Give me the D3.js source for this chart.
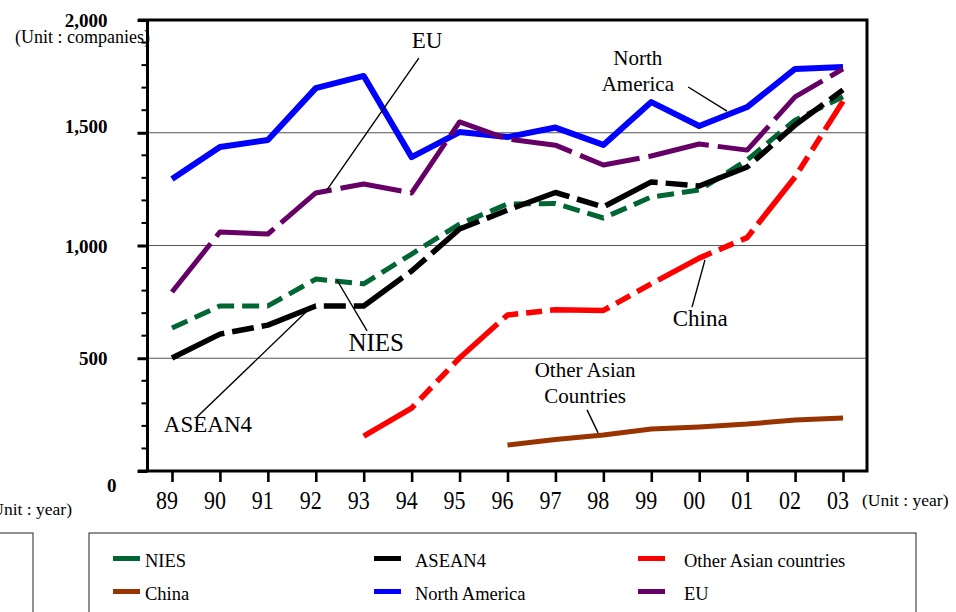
<!DOCTYPE html>
<html>
<head>
<meta charset="utf-8">
<script src="https://cdn.jsdelivr.net/npm/d3@7/dist/d3.min.js"></script>
<style>
  html, body { margin: 0; padding: 0; background: #fff; overflow: hidden; }
  svg { display: block; font-family: "Liberation Serif", "Times New Roman", serif; }
</style>
</head>
<body>
<svg id="chart" width="956" height="612"></svg>
<script>
// Fiscal years (two-digit labels) and number of companies per region
const years = ["89","90","91","92","93","94","95","96","97","98","99","00","01","02","03"];
const northAmerica = [1295, 1437, 1468, 1698, 1752, 1392, 1503, 1481, 1523, 1446, 1636, 1530, 1614, 1783, 1792];
const eu           = [794, 1060, 1051, 1233, 1273, 1233, 1548, 1472, 1445, 1357, 1397, 1450, 1423, 1659, 1783];
const nies         = [634, 732, 732, 851, 830, 962, 1095, 1184, 1186, 1122, 1215, 1246, 1379, 1556, 1660];
const asean4       = [501, 607, 647, 732, 732, 887, 1073, 1157, 1235, 1171, 1282, 1264, 1348, 1534, 1690];
const china        = [null, null, null, null, 155, 279, 501, 692, 715, 712, 830, 944, 1035, 1304, 1640];
const otherAsian   = [null, null, null, null, null, null, null, 115, 140, 160, 186, 195, 208, 226, 235];
const yTicks = [0, 500, 1000, 1500, 2000];
const legendNames = ["NIES", "ASEAN4", "Other Asian countries", "China", "North America", "EU"];

const svg = d3.select("#chart");

const x = d3.scalePoint().domain(years).range([172, 843]);
const xi = d3.scaleLinear().domain([0, years.length - 1]).range([172, 843]); // fractional positions for annotations
const y = d3.scaleLinear().domain([0, 2000]).range([471, 20]);

const plotLeft = 147.5, plotRight = 867, plotTop = 20, plotBottom = 471;

// horizontal gridlines
svg.append("g").selectAll("line")
  .data(yTicks.filter(v => v > 0 && v < 2000))
  .join("line")
  .attr("x1", plotLeft).attr("x2", plotRight)
  .attr("y1", d => y(d)).attr("y2", d => y(d))
  .attr("stroke", "#555").attr("stroke-width", 1.2);

// y axis: major ticks with labels
const yAxis = svg.append("g")
  .attr("transform", `translate(${plotLeft},0)`)
  .call(d3.axisLeft(y).tickValues(yTicks).tickSize(10).tickSizeOuter(0).tickPadding(30).tickFormat(d3.format(",")));
yAxis.select(".domain").remove();
yAxis.selectAll(".tick line").attr("stroke", "#000").attr("stroke-width", 3);
const yLabelShift = { 0: 14, 1500: -7 };
yAxis.selectAll(".tick text")
  .attr("fill", "#000")
  .attr("font-family", "Liberation Serif, serif")
  .attr("font-weight", "bold")
  .attr("font-size", 19)
  .attr("dx", d => (d === 0 ? 9 : 0))
  .attr("dy", d => (yLabelShift[d] || 0) + 6.5)
  .attr("dominant-baseline", null);

// y axis: minor ticks every 100
svg.append("g").selectAll("line")
  .data(d3.range(100, 2000, 100).filter(v => v % 500 !== 0))
  .join("line")
  .attr("x1", plotLeft - 6).attr("x2", plotLeft)
  .attr("y1", d => y(d)).attr("y2", d => y(d))
  .attr("stroke", "#000").attr("stroke-width", 2);

// x axis ticks
const xAxis = svg.append("g")
  .attr("transform", `translate(0,${plotBottom})`)
  .call(d3.axisBottom(x).tickSize(11).tickSizeOuter(0).tickFormat(""));
xAxis.select(".domain").remove();
xAxis.selectAll(".tick line").attr("stroke", "#000").attr("stroke-width", 2.6);

// x tick labels (tall, narrow serif digits)
svg.append("g").selectAll("text")
  .data(years)
  .join("text")
  .attr("transform", d => `translate(${x(d) - 5},509) scale(1,1.15)`)
  .attr("text-anchor", "middle")
  .attr("font-size", 22)
  .attr("fill", "#000")
  .text(d => d);

// plot frame
svg.append("path")
  .attr("d", `M138,${plotTop}H${plotRight}V${plotBottom}H138 M${plotLeft},${plotTop}V${plotBottom}`)
  .attr("fill", "none").attr("stroke", "#000").attr("stroke-width", 3);

// unit labels
svg.append("text").attr("x", 15).attr("y", 43).attr("font-size", 18).text("(Unit : companies)");
svg.append("text").attr("x", 862).attr("y", 506).attr("font-size", 17.5).text("(Unit : year)");
svg.append("text").attr("x", 72).attr("y", 515).attr("text-anchor", "end").attr("font-size", 17.5).text("(Unit : year)");

// series (drawn bottom to top)
const series = [
  { values: northAmerica, color: "#0000ff", width: 6,   dash: null },
  { values: eu,           color: "#660066", width: 5,   dash: "62,9" },
  { values: nies,         color: "#006633", width: 5,   dash: "17,8" },
  { values: asean4,       color: "#000000", width: 5.5, dash: "58,8,22,8" },
  { values: china,        color: "#ff0000", width: 5.5, dash: "60,8,16,8,16,8" },
  { values: otherAsian,   color: "#993300", width: 5,   dash: null }
];

const line = d3.line()
  .defined(d => d.v != null)
  .x(d => x(d.year))
  .y(d => y(d.v));

svg.append("g").selectAll("path")
  .data(series)
  .join("path")
  .attr("d", s => line(years.map((yr, i) => ({ year: yr, v: s.values[i] }))))
  .attr("fill", "none")
  .attr("stroke", s => s.color)
  .attr("stroke-width", s => s.width)
  .attr("stroke-dasharray", s => s.dash)
  .attr("stroke-linejoin", "round")
  .attr("stroke-linecap", "butt");

// in-plot labels with leader lines (positions in year-index / value units)
const annotations = [
  { lines: ["EU"], size: 23, tx: 5.32, ty: 1876, lead: [5.15, 1831, 3.23, 1246] },
  { lines: ["North", "America"], size: 21, tx: 9.72, ty: 1800, lead: [10.77, 1703, 11.58, 1596] },
  { lines: ["NIES"], size: 25, tx: 4.26, ty: 532, lead: [3.44, 847, 4.07, 621] },
  { lines: ["ASEAN4"], size: 23, tx: 0.75, ty: 173, lead: [0.52, 239, 2.84, 714] },
  { lines: ["China"], size: 23, tx: 11.02, ty: 643, lead: [11.12, 936, 10.85, 727] },
  { lines: ["Other Asian", "Countries"], size: 21, tx: 8.62, ty: 417, lead: [8.66, 271, 8.89, 169] }
];
const ann = svg.append("g");
annotations.forEach(a => {
  ann.append("line")
    .attr("x1", xi(a.lead[0])).attr("y1", y(a.lead[1]))
    .attr("x2", xi(a.lead[2])).attr("y2", y(a.lead[3]))
    .attr("stroke", "#000").attr("stroke-width", 1.4);
  a.lines.forEach((t, k) => {
    ann.append("text")
      .attr("x", xi(a.tx)).attr("y", y(a.ty) + k * 26)
      .attr("text-anchor", "middle")
      .attr("font-size", a.size)
      .attr("fill", "#000")
      .text(t);
  });
});

// legend panels
svg.append("rect").attr("x", -10).attr("y", 533).attr("width", 43).attr("height", 100)
  .attr("fill", "none").attr("stroke", "#222").attr("stroke-width", 1);
svg.append("rect").attr("x", 89).attr("y", 533).attr("width", 827).attr("height", 100)
  .attr("fill", "none").attr("stroke", "#222").attr("stroke-width", 1);

const legendColors = ["#006633", "#000000", "#ff0000", "#993300", "#0000ff", "#660066"];
const swatchX = [113, 374, 638];
const textX = [145, 415, 684];
const leg = svg.append("g").selectAll("g")
  .data(legendNames)
  .join("g");
leg.append("rect")
  .attr("x", (d, i) => swatchX[i % 3])
  .attr("y", (d, i) => 556 + Math.floor(i / 3) * 33)
  .attr("width", 27).attr("height", 5)
  .attr("fill", (d, i) => legendColors[i]);
leg.append("text")
  .attr("x", (d, i) => textX[i % 3])
  .attr("y", (d, i) => 567 + Math.floor(i / 3) * 33)
  .attr("font-size", 18.5)
  .attr("fill", "#000")
  .text(d => d);
</script>
</body>
</html>
